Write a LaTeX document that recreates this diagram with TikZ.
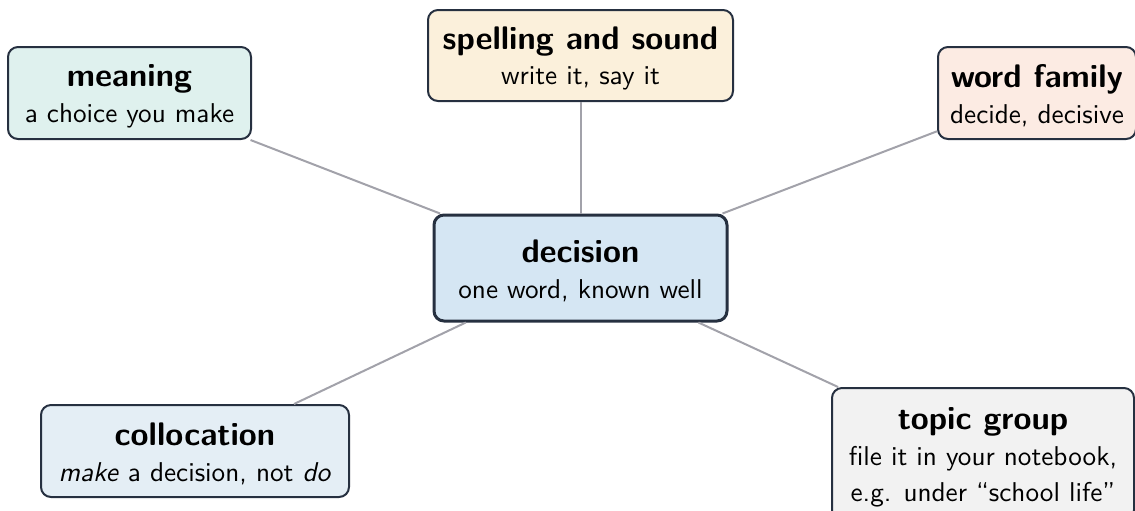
\documentclass[tikz,border=0pt]{standalone}
\definecolor{bordc}{HTML}{263040}
\definecolor{linkc}{HTML}{A2A2AA}
\definecolor{fmean}{HTML}{DFF1EE}
\definecolor{fspell}{HTML}{FBF0DB}
\definecolor{ffam}{HTML}{FCEBE3}
\definecolor{fdec}{HTML}{D5E6F3}
\definecolor{fcoll}{HTML}{E4EEF5}
\definecolor{ftopic}{HTML}{F2F2F2}
\def\pxu{0.3676pt}
\newcommand\ttl[1]{{\large\bfseries\rule{0pt}{10.5pt}#1}\\}
\tikzset{
  box/.style={draw=bordc, line width=2*\pxu, rounded corners=10*\pxu, align=center,
    font=\sffamily\fontsize{10}{13.2}\selectfont, inner sep=0pt},
  link/.style={draw=linkc, line width=2*\pxu},
}
\begin{document}
\begin{tikzpicture}[x=\pxu,y=-\pxu]
\useasboundingbox (0,0) rectangle (1135,510);
\clip (0,0) rectangle (1135,510);
\node[box, fill=fdec, line width=3*\pxu, minimum width=293*\pxu, minimum height=106*\pxu] (dec) at (580.5,268) {\ttl{decision} one word, known well};
\node[box, fill=fmean, minimum width=243*\pxu, minimum height=92*\pxu] (mean) at (129.5,93) {\ttl{meaning} a choice you make};
\node[box, fill=fspell, minimum width=305*\pxu, minimum height=91*\pxu] (spell) at (580.5,55.5) {\ttl{spelling and sound} write it, say it};
\node[box, fill=ffam, minimum width=198*\pxu, minimum height=92*\pxu] (fam) at (1037,93) {\ttl{word family} decide, decisive};
\node[box, fill=fcoll, minimum width=308*\pxu, minimum height=92*\pxu] (coll) at (195,451) {\ttl{collocation} \textit{make} a decision, not \textit{do}};
\node[box, fill=ftopic, minimum width=302*\pxu, minimum height=132*\pxu] (topic) at (983,454) {\ttl{topic group} file it in your notebook,\\ e.g. under “school life”};
\draw[link] (dec) -- (mean);
\draw[link] (dec) -- (spell);
\draw[link] (dec) -- (fam);
\draw[link] (dec) -- (coll);
\draw[link] (dec) -- (topic);
\end{tikzpicture}
\end{document}
